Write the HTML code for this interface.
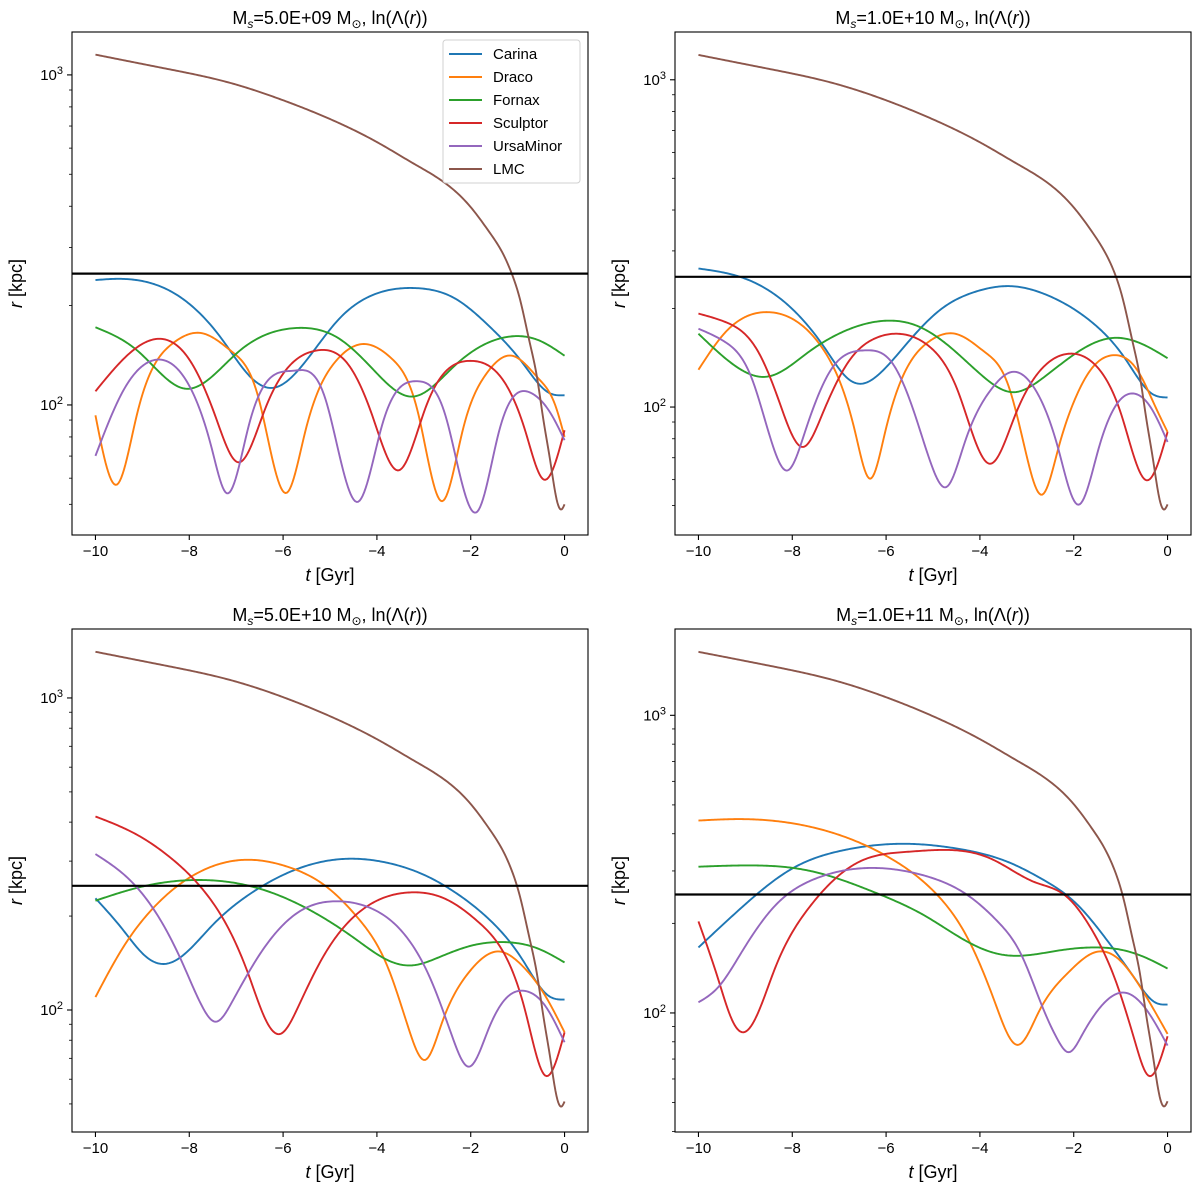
<!DOCTYPE html>
<html><head><meta charset="utf-8"><style>
body{margin:0;background:#fff;}
svg{display:block;font-family:"Liberation Sans","DejaVu Sans",sans-serif;}
</style></head><body>
<svg id="fig" width="1200" height="1187" viewBox="0 0 1200 1187" xmlns="http://www.w3.org/2000/svg"></svg>
<script>
// ---- data (t in Gyr, r in kpc) ----
const seriesNames = ["Carina","Draco","Fornax","Sculptor","UrsaMinor","LMC"];
const colors = ["#1f77b4","#ff7f0e","#2ca02c","#d62728","#9467bd","#8c564b"];
const titles = ["5.0E+09","1.0E+10","5.0E+10","1.0E+11"];
const xTicks = [-10,-8,-6,-4,-2,0];
const thresholdR = [250,250,250,250];
const lmc_t=[-10,-8.5,-7.13,-6.07,-5.00,-3.93,-3.22,-2.58,-2.01,-1.59,-1.30,-1.13,-0.95,-0.74,-0.59,-0.45,-0.31,-0.17,-0.06,0];

// Panel 1
const p1_Carina_t=[-10,-9.58,-8.37,-7.30,-6.73,-6.24,-5.53,-4.81,-4.10,-3.18,-2.33,-1.62,-0.91,-0.34,0];
const p1_Carina_r=[239,241,220,158,123,112.6,135,182,215,226,210,174,135,109,107];
const p1_Draco_t=[-10,-9.54,-9.12,-8.37,-7.73,-7.09,-6.52,-5.92,-5.53,-4.89,-4.28,-3.68,-3.11,-2.61,-2.18,-1.69,-1.12,-0.55,-0.20,0];
const p1_Draco_r=[93,57.4,93,153,165,145,104.5,54.2,82.8,135,153,138,93,51.1,82.8,123,141,120,100,80];
const p1_Fornax_t=[-10,-9.08,-8.08,-6.95,-5.74,-4.81,-4.10,-3.25,-2.33,-1.19,-0.55,0];
const p1_Fornax_r=[172,145,112,145,171,159,129,106,132,161,157,141];
const p1_Sculptor_t=[-10,-8.83,-8.01,-7.45,-6.95,-6.38,-5.31,-4.60,-4.10,-3.53,-2.97,-2.01,-1.33,-0.83,-0.44,0];
const p1_Sculptor_r=[110,157,138,93,67,97.5,146,132,93,63.4,97.5,136,120,82.8,59.4,83.8];
const p1_UrsaMinor_t=[-10,-9.43,-8.72,-8.01,-7.52,-7.20,-6.73,-5.77,-5.10,-4.40,-3.89,-3.14,-2.54,-1.86,-1.40,-0.73,-0.27,0];
const p1_UrsaMinor_r=[70.1,109,137,115,73.8,54,86.8,127,104.5,50.9,86.8,118,93,47.5,82.8,109,93,78.2];
const p1_LMC_r=[1152,1045,946,845,735,618,539,474,399,332,285,251,209,154,122,90,68.4,51.8,48.3,50];

// Panel 2
const p2_Carina_t=[-10,-9.08,-8.01,-7.30,-6.81,-6.49,-6.10,-5.53,-4.81,-4.10,-3.32,-2.54,-1.62,-0.91,-0.34,0];
const p2_Carina_r=[265,249,200,151,122,118,128,158,200,225,234,219,182,141,110,107];
const p2_Draco_t=[-10,-9.43,-8.55,-7.80,-7.30,-6.95,-6.66,-6.34,-6.02,-5.60,-5.10,-4.53,-3.89,-3.39,-3.04,-2.67,-2.33,-1.97,-1.62,-1.16,-0.62,-0.27,0];
const p2_Draco_r=[130,169,195,178,147,116,83.9,60.4,83.9,128,158,167.5,147,116,74.6,54,74.6,106,131,144,128,101,83.9];
const p2_Fornax_t=[-10,-9.43,-8.51,-7.66,-6.95,-6.02,-5.38,-4.67,-3.96,-3.29,-2.68,-1.97,-1.19,-0.55,0];
const p2_Fornax_r=[167.5,141,124,147,169,183.5,178,154,125,111,122,145.5,162.5,156,141];
const p2_Sculptor_t=[-10,-9.43,-8.72,-8.30,-7.77,-7.37,-6.81,-6.24,-5.77,-5.10,-4.46,-3.78,-3.25,-2.68,-2.11,-1.47,-0.98,-0.44,0];
const p2_Sculptor_r=[193,182,147,106,75.5,94.3,137,162,167.5,154,111,67.1,94.3,131,145.5,131,94.3,59.7,83.9];
const p2_UrsaMinor_t=[-10,-9.43,-8.86,-8.44,-8.10,-7.73,-7.16,-6.45,-5.88,-5.38,-5.03,-4.71,-4.32,-3.75,-3.32,-2.83,-2.33,-1.90,-1.47,-1.05,-0.73,-0.34,0];
const p2_UrsaMinor_r=[173.5,158,122,78.2,64,83.9,131,149,137,94.3,66.4,57,78.2,113.7,128,113.7,74.6,50.3,74.6,103.6,110,98.8,78.2];
const p2_LMC_r=[1191,1080,977,873,757,636,555,487,409,340,291,257,213,157,124,91.5,69.2,52.2,48.7,50.4];

// Panel 3
const p3_Carina_t=[-10,-9.43,-8.94,-8.55,-8.15,-7.52,-6.66,-5.88,-5.10,-4.39,-3.68,-2.97,-2.33,-1.62,-0.91,-0.34,0];
const p3_Carina_r=[228,182,149,140.4,149,186,238,276,300,305,294,270,238,196,146,111,108];
const p3_Draco_t=[-10,-9.43,-8.72,-7.80,-6.73,-5.88,-5.10,-4.39,-3.75,-3.32,-2.97,-2.61,-2.04,-1.40,-0.91,-0.41,0];
const p3_Draco_r=[110,157,216,276,303,287,250,196,135,86.9,69.2,91.3,132,154,139,111,84.8];
const p3_Fornax_t=[-10,-9.08,-7.80,-6.59,-5.53,-4.46,-3.75,-3.25,-2.68,-1.97,-1.26,-0.55,0];
const p3_Fornax_r=[224,247,261,247,213,169,144,139,147.5,161,165,157,142];
const p3_Sculptor_t=[-10,-9.08,-8.37,-7.66,-7.16,-6.73,-6.38,-6.06,-5.67,-5.17,-4.46,-3.32,-2.54,-1.83,-1.26,-0.83,-0.41,0];
const p3_Sculptor_r=[417,362,305,238,182,129,93.6,83.8,103,146,201,238,227,191,149,98.3,61.6,84.8];
const p3_UrsaMinor_t=[-10,-9.29,-8.72,-8.15,-7.73,-7.44,-7.09,-6.52,-5.67,-4.81,-4.10,-3.39,-2.83,-2.40,-2.04,-1.62,-1.26,-0.83,-0.41,0];
const p3_UrsaMinor_r=[316,263,206,142,103,91.7,106,149,206,223,211,173,123,82.7,65.8,86.9,108.5,115,103,78.8];
const p3_LMC_r=[1406,1269,1142,1015,874,728,631,550,459,378,321,281,231,168,131,95.2,71,52.9,49.1,50.9];

// Panel 4
const p4_Carina_t=[-10,-9.08,-8.01,-6.95,-5.53,-4.46,-3.39,-2.68,-1.97,-1.26,-0.69,-0.27,0];
const p4_Carina_r=[166,226,305,351,370,356,321,282,235,173,130,108.6,106.7];
const p4_Draco_t=[-10,-9.08,-8.01,-6.95,-5.88,-4.96,-4.25,-3.68,-3.20,-2.75,-2.11,-1.54,-1.05,-0.55,0];
const p4_Draco_r=[443,448,434,394,329,254,177,108.6,78.1,100.5,137,160,152,120,85];
const p4_Fornax_t=[-10,-9.08,-7.66,-6.24,-5.17,-4.25,-3.53,-3.04,-2.33,-1.54,-0.91,-0.41,0];
const p4_Fornax_r=[310,313,301,254,212,173,157,156,162,166,162,152,141];
const p4_Sculptor_t=[-10,-9.58,-9.26,-9.04,-8.79,-8.37,-7.66,-6.59,-5.53,-4.81,-3.75,-2.83,-2.18,-1.62,-1.12,-0.69,-0.41,0];
const p4_Sculptor_r=[203,130,93,86.1,95.5,141,224,321,348,353,329,275,248,191,130,79.7,61.6,83.5];
const p4_UrsaMinor_t=[-10,-9.58,-9.08,-8.37,-7.52,-6.24,-5.17,-4.25,-3.61,-3.11,-2.68,-2.33,-2.11,-1.83,-1.40,-0.91,-0.41,0];
const p4_UrsaMinor_r=[108.6,122,160,229,282,307,289,248,202,156,106,80.7,73.8,83.9,106,117,100.5,77.7];
const p4_LMC_r=[1634,1469,1314,1161,993,820,706,611,505,412,347,302,246,176,136,97.2,71.5,52.5,48.6,50.5];

const panelData = [
 {Carina:[p1_Carina_t,p1_Carina_r],Draco:[p1_Draco_t,p1_Draco_r],Fornax:[p1_Fornax_t,p1_Fornax_r],Sculptor:[p1_Sculptor_t,p1_Sculptor_r],UrsaMinor:[p1_UrsaMinor_t,p1_UrsaMinor_r],LMC:[lmc_t,p1_LMC_r]},
 {Carina:[p2_Carina_t,p2_Carina_r],Draco:[p2_Draco_t,p2_Draco_r],Fornax:[p2_Fornax_t,p2_Fornax_r],Sculptor:[p2_Sculptor_t,p2_Sculptor_r],UrsaMinor:[p2_UrsaMinor_t,p2_UrsaMinor_r],LMC:[lmc_t,p2_LMC_r]},
 {Carina:[p3_Carina_t,p3_Carina_r],Draco:[p3_Draco_t,p3_Draco_r],Fornax:[p3_Fornax_t,p3_Fornax_r],Sculptor:[p3_Sculptor_t,p3_Sculptor_r],UrsaMinor:[p3_UrsaMinor_t,p3_UrsaMinor_r],LMC:[lmc_t,p3_LMC_r]},
 {Carina:[p4_Carina_t,p4_Carina_r],Draco:[p4_Draco_t,p4_Draco_r],Fornax:[p4_Fornax_t,p4_Fornax_r],Sculptor:[p4_Sculptor_t,p4_Sculptor_r],UrsaMinor:[p4_UrsaMinor_t,p4_UrsaMinor_r],LMC:[lmc_t,p4_LMC_r]}
];
const logMin = [1.606,1.609,1.609,1.600];
const logMax = [3.130,3.146,3.221,3.290];

// ---- layout ----
const NS="http://www.w3.org/2000/svg";
const svg=document.getElementById('fig');
const boxes=[[72,32],[675,32],[72,629],[675,629]];
const W=516,H=503;
function mk(tag,attrs,parent){const e=document.createElementNS(NS,tag);for(const k in attrs)e.setAttribute(k,attrs[k]);(parent||svg).appendChild(e);return e;}

function splinePath(xs,ys){
  const n=xs.length;
  const h=[],M=new Array(n).fill(0);
  for(let i=0;i<n-1;i++) h.push(xs[i+1]-xs[i]);
  const sub=new Array(n).fill(0),dia=new Array(n).fill(1),sup=new Array(n).fill(0),rhs=new Array(n).fill(0);
  for(let i=1;i<n-1;i++){sub[i]=h[i-1];dia[i]=2*(h[i-1]+h[i]);sup[i]=h[i];
    rhs[i]=6*((ys[i+1]-ys[i])/h[i]-(ys[i]-ys[i-1])/h[i-1]);}
  for(let i=1;i<n;i++){const m=sub[i]/dia[i-1];dia[i]-=m*sup[i-1];rhs[i]-=m*rhs[i-1];}
  M[n-1]=rhs[n-1]/dia[n-1];
  for(let i=n-2;i>=0;i--) M[i]=(rhs[i]-sup[i]*M[i+1])/dia[i];
  let p='';
  for(let i=0;i<n-1;i++){
    const steps=Math.max(6,Math.ceil(h[i]/1.5));
    for(let s=(i===0?0:1);s<=steps;s++){
      const x=xs[i]+h[i]*s/steps;
      const A=(xs[i+1]-x)/h[i],B=(x-xs[i])/h[i];
      const y=A*ys[i]+B*ys[i+1]+((A*A*A-A)*M[i]+(B*B*B-B)*M[i+1])*h[i]*h[i]/6;
      p+=(p?'L':'M')+x.toFixed(2)+','+y.toFixed(2);
    }
  }
  return p;
}

for(let p=0;p<4;p++){
  const [L,T]=boxes[p];
  const g=mk('g',{});
  
  
  const xS=t=>L+(t+10.5)/11*W;
  const yS=r=>T+(logMax[p]-Math.log10(r))/(logMax[p]-logMin[p])*H;
  const clip=mk('clipPath',{id:'clip'+p},g); mk('rect',{x:L,y:T,width:W,height:H},clip);
  const plot=mk('g',{'clip-path':'url(#clip'+p+')'},g);
  
  
  seriesNames.forEach((nm,i)=>{
    const [ts,rs]=panelData[p][nm];
    const path=mk('path',{d:splinePath(ts.map(xS),rs.map(yS)),fill:'none',stroke:colors[i],'stroke-width':1.9,'stroke-linejoin':'round'},plot);
    
    
  });
  const hl=mk('line',{x1:L,x2:L+W,y1:yS(thresholdR[p]),y2:yS(thresholdR[p]),stroke:'#000','stroke-width':2.2},plot);
  
  
  const fr=mk('rect',{x:L,y:T,width:W,height:H,fill:'none',stroke:'#000','stroke-width':1.1},g);
  
  
  xTicks.forEach(v=>{
    const x=xS(v);
    const tk=mk('line',{x1:x,x2:x,y1:T+H,y2:T+H+5,stroke:'#000','stroke-width':1.1},g);
    
    
    const tx=mk('text',{x:x,y:T+H+21,'text-anchor':'middle','font-size':15},g);
    tx.textContent=(v<0?'\u2212'+(-v):''+v);
    
    
  });
  for(let e=1;e<=3;e++){for(let k=1;k<10;k++){
    const r=k*Math.pow(10,e); const lg=Math.log10(r);
    if(lg<logMin[p]||lg>logMax[p]) continue;
    const y=yS(r); const major=(k===1);
    const tk=mk('line',{x1:L-(major?5:3),x2:L,y1:y,y2:y,stroke:'#000','stroke-width':major?1.1:0.8},g);
    
    
    if(major){
      const tx=mk('text',{x:L-9,y:y+5,'text-anchor':'end','font-size':15},g);
      
      
      tx.appendChild(document.createTextNode('10'));
      const sup=mk('tspan',{dy:-6,'font-size':11},tx); sup.textContent=''+e;
    }
  }}
  const xl=mk('text',{x:L+W/2,y:T+H+46,'text-anchor':'middle','font-size':18},g);
  
  
  const xi=mk('tspan',{'font-style':'italic'},xl); xi.textContent='t';
  xl.appendChild(document.createTextNode(' [Gyr]'));
  const yx=L-50, yy=T+H/2;
  const yl=mk('text',{x:yx,y:yy,'text-anchor':'middle','font-size':18,transform:'rotate(-90 '+yx+' '+yy+')'},g);
  
  
  const yi=mk('tspan',{'font-style':'italic'},yl); yi.textContent='r';
  yl.appendChild(document.createTextNode(' [kpc]'));
  const tt=mk('text',{x:L+W/2,y:T-8,'text-anchor':'middle','font-size':18},g);
  
  
  tt.appendChild(document.createTextNode('M'));
  const s=mk('tspan',{'font-style':'italic','font-size':12,dy:4},tt); s.textContent='s';
  const rest=mk('tspan',{dy:-4},tt); rest.textContent='='+titles[p]+' M';
  const sun=mk('tspan',{'font-size':12,dy:4},tt); sun.textContent='\u2299';
  const rest2=mk('tspan',{dy:-4},tt); rest2.textContent=', ln(\u039B(';
  const ri=mk('tspan',{'font-style':'italic'},tt); ri.textContent='r';
  tt.appendChild(document.createTextNode('))'));
}

const lg=mk('g',{});


mk('rect',{x:443,y:40,width:137,height:143,rx:3,fill:'#fff','fill-opacity':0.85,stroke:'#d0d0d0','stroke-width':1},lg);
seriesNames.forEach((nm,i)=>{
  const y=54+i*23;
  const e=mk('g',{},lg);
  
  
  mk('line',{x1:449,x2:482,y1:y,y2:y,stroke:colors[i],'stroke-width':1.9},e);
  const t=mk('text',{x:493,y:y+5,'font-size':15},e); t.textContent=nm;
});
</script>
</body></html>
